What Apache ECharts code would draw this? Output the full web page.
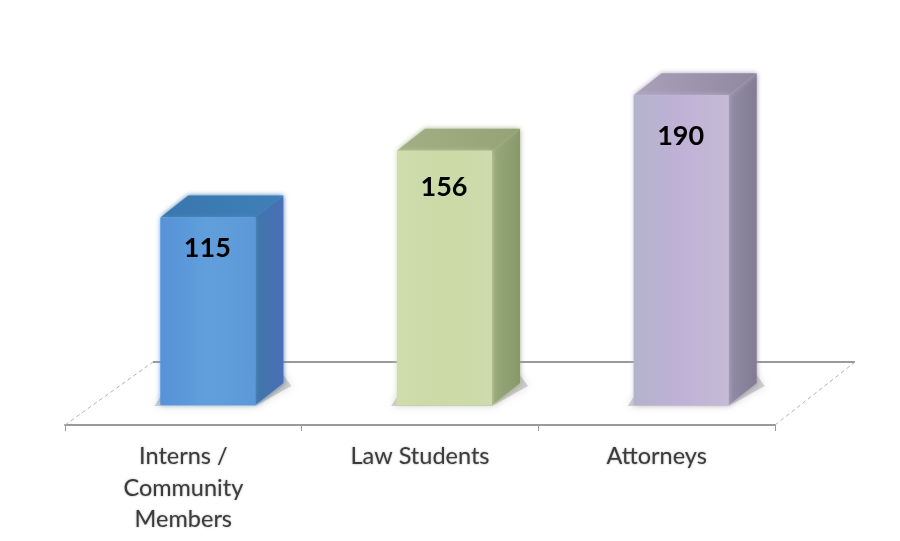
<!DOCTYPE html>
<html>
<head>
<meta charset="utf-8">
<style>html,body{margin:0;padding:0;background:#fff}#c{width:900px;height:541px}</style>
<script src="https://cdn.jsdelivr.net/npm/echarts@6/dist/echarts.min.js"></script>
</head>
<body>
<div id="c"></div>
<script>
const categories = ['Interns /\nCommunity\nMembers', 'Law Students', 'Attorneys'];
const values = [115, 156, 190];
const frontColors = [
  ['#5592d8', '#619fdc', '#5c98d8'],
  ['#cfdcae', '#cbdaa6', '#cddbae'],
  ['#b3b3cc', '#c0b1d6', '#c4bbd6']
];
const sideColors = [['#3f76a8', '#4a6fb8'], ['#98a97a', '#87986a'], ['#938ca8', '#827b92']];
const topColors = [['#3a76ae', '#3f7fb8'], ['#a2af85', '#94a374'], ['#a9a1ba', '#8f889f']];
const lineColor = '#9a9a98';

const chart = echarts.init(document.getElementById('c'), null, {renderer: 'canvas'});
const barW = 95, depX = 28, depY = 22, floorGap = 20;

function hGrad(c) {
  return new echarts.graphic.LinearGradient(0, 0, 1, 0, c.map((x, i) => ({offset: i / (c.length - 1), color: x})));
}

function renderFloor(params, api) {
  const cs = params.coordSys;
  const l = cs.x, r = cs.x + cs.width, b = cs.y + cs.height, yb = b - 63;
  const dash = {stroke: '#b4b4b2', lineWidth: 1, lineDash: [4, 3]};
  return {type: 'group', children: [
    {type: 'line', shape: {x1: l + 88, y1: yb, x2: r + 80, y2: yb}, style: {stroke: lineColor, lineWidth: 2}},
    {type: 'line', shape: {x1: l, y1: b, x2: l + 88, y2: yb}, style: dash},
    {type: 'line', shape: {x1: r, y1: b, x2: r + 80, y2: yb}, style: dash}
  ]};
}

function renderBar(params, api) {
  const i = api.value(0), v = api.value(1);
  const o = api.coord([i, 0]);
  const h = api.size([0, v])[1];
  const x0 = o[0] - 23, x1 = x0 + barW, yB = o[1] - floorGap, yT = yB - h;
  const soft = c => ({shadowColor: c, shadowBlur: 5});
  const labelY = yB - v * 1.49 + 14.5;
  return {type: 'group', children: [
    {type: 'polygon', shape: {points: [[x0 - 6, yB + 1], [x1, yB + 1], [x1 + depX + 8, yB - depY + 3], [x1 + depX, yB - depY - 8], [x0, yB - 8]]},
      style: {fill: 'rgba(130,130,125,0.35)', shadowColor: 'rgba(110,110,105,0.6)', shadowBlur: 9}},
    {type: 'polygon', shape: {points: [[x1, yT], [x1 + depX, yT - depY], [x1 + depX, yB - depY], [x1, yB]]},
      style: Object.assign({fill: hGrad(sideColors[i])}, soft(sideColors[i][0]))},
    {type: 'polygon', shape: {points: [[x0, yT], [x0 + depX, yT - depY], [x1 + depX, yT - depY], [x1, yT]]},
      style: Object.assign({fill: hGrad(topColors[i])}, soft(topColors[i][0]))},
    {type: 'rect', shape: {x: x0, y: yT, width: barW, height: h},
      style: Object.assign({fill: hGrad(frontColors[i])}, soft(frontColors[i][1]))},
    {type: 'text', x: o[0] + 24, y: labelY,
      style: {text: String(v), fill: '#000', font: 'bold 27px Lato, sans-serif', align: 'center', verticalAlign: 'middle'}}
  ]};
}

chart.setOption({
  animation: false,
  backgroundColor: '#ffffff',
  grid: {left: 65, width: 710, top: 17.5, height: 407.5},
  xAxis: {
    type: 'category',
    data: categories,
    axisLine: {lineStyle: {color: lineColor, width: 2}},
    axisTick: {show: true, length: 6, lineStyle: {color: lineColor}},
    axisLabel: {
      color: '#3c3c3c', fontFamily: 'Lato, sans-serif', fontSize: 23.5, lineHeight: 31.5, margin: 16,
      interval: 0, textShadowColor: 'rgba(40,40,40,0.45)', textShadowBlur: 2
    }
  },
  yAxis: {type: 'value', min: 0, max: 250, show: false},
  series: [
    {type: 'custom', renderItem: renderFloor, data: [[0, 0]], silent: true, z: 1, clip: false},
    {type: 'custom', renderItem: renderBar, data: values.map((v, i) => [i, v]), encode: {x: 0, y: 1}, z: 2, clip: false}
  ]
});
</script>
</body>
</html>
